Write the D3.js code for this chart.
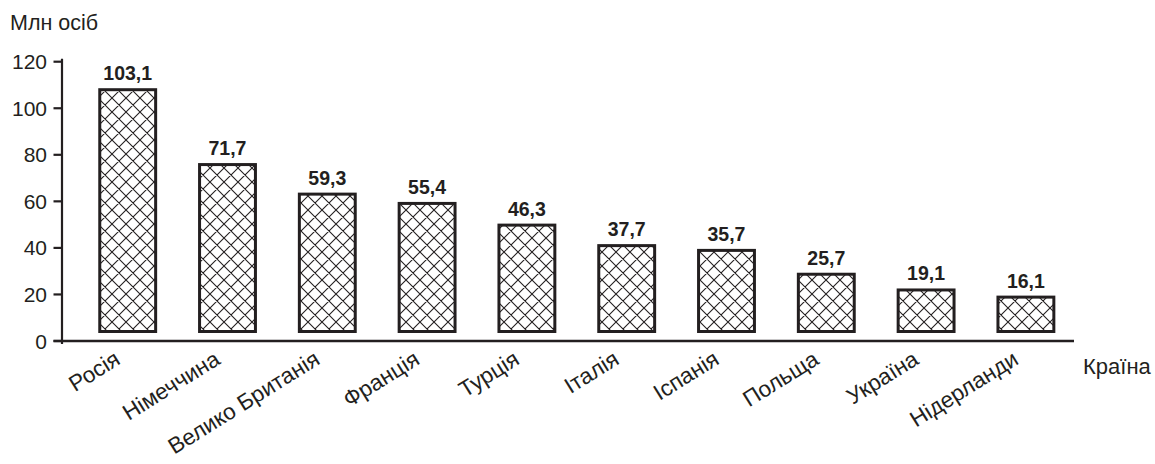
<!DOCTYPE html>
<html>
<head>
<meta charset="utf-8">
<script src="https://cdn.jsdelivr.net/npm/d3@7"></script>
<style>
  html, body { margin: 0; padding: 0; background: #fff; }
  svg { display: block; font-family: "Liberation Sans", Arial, sans-serif; }
</style>
</head>
<body>
<svg id="chart" width="1155" height="464"></svg>
<script>
const countries = ["Росія", "Німеччина", "Велико Британія", "Франція", "Турція", "Італія", "Іспанія", "Польща", "Україна", "Нідерланди"];
const population = [103.1, 71.7, 59.3, 55.4, 46.3, 37.7, 35.7, 25.7, 19.1, 16.1];
const valueLabels = ["103,1", "71,7", "59,3", "55,4", "46,3", "37,7", "35,7", "25,7", "19,1", "16,1"];
const yTicks = [0, 20, 40, 60, 80, 100, 120];
const yTitle = "Млн осіб";
const xTitle = "Країна";

const ink = "#231f20";
const svg = d3.select("#chart");

const y = d3.scaleLinear().domain([0, 120]).range([341, 61.7]);
const yBar = d3.scaleLinear().domain([0, 120]).range([334, 334 - 120 * 2.384]);
const x = d3.scaleBand().domain(countries).range([78.3, 1075.3]).paddingInner(0.41).paddingOuter(0.2);

// cross-hatch pattern
const defs = svg.append("defs");
const pat = defs.append("pattern")
  .attr("id", "hatch").attr("patternUnits", "userSpaceOnUse")
  .attr("width", 14).attr("height", 14);
pat.append("rect").attr("width", 14).attr("height", 14).attr("fill", "#fff");
pat.append("path").attr("d", "M0,0L14,14M0,14L14,0M-1,1L1,-1M13,15L15,13M-1,13L1,15M13,-1L15,1")
  .attr("stroke", ink).attr("stroke-width", 1.1).attr("fill", "none");

const data = countries.map((c, i) => ({ c, v: population[i], label: valueLabels[i] }));

// bars
svg.append("g").selectAll("rect").data(data).join("rect")
  .attr("x", d => x(d.c) + 1.5)
  .attr("width", x.bandwidth() - 3)
  .attr("y", d => yBar(d.v) + 1.5)
  .attr("height", d => (yBar(0) - 2.5) - (yBar(d.v) + 1.5))
  .attr("fill", "url(#hatch)")
  .attr("stroke", ink).attr("stroke-width", 3);

// value labels
svg.append("g").selectAll("text").data(data).join("text")
  .attr("x", d => x(d.c) + x.bandwidth() / 2)
  .attr("y", d => yBar(d.v) - 8)
  .attr("text-anchor", "middle")
  .attr("font-size", 19.5).attr("font-weight", "bold").attr("fill", ink)
  .text(d => d.label);

// y axis
const yAxis = svg.append("g");
yAxis.append("line").attr("x1", 62).attr("x2", 62).attr("y1", y(120) - 3).attr("y2", y(0) + 3)
  .attr("stroke", ink).attr("stroke-width", 2.2);
yAxis.selectAll("line.tick").data(yTicks).join("line").attr("class", "tick")
  .attr("x1", 53.5).attr("x2", 62).attr("y1", d => y(d)).attr("y2", d => y(d))
  .attr("stroke", ink).attr("stroke-width", 2.2);
yAxis.selectAll("text").data(yTicks).join("text")
  .attr("x", 47).attr("y", d => y(d)).attr("dy", "0.36em")
  .attr("text-anchor", "end").attr("font-size", 21).attr("fill", ink)
  .text(d => d);

// x axis
svg.append("line").attr("x1", 53.5).attr("x2", 1074).attr("y1", y(0)).attr("y2", y(0))
  .attr("stroke", ink).attr("stroke-width", 2.6);

// x labels
svg.append("g").selectAll("text").data(countries).join("text")
  .attr("transform", d => `translate(${x(d) + x.bandwidth() / 2 - 6},363) rotate(-32)`)
  .attr("text-anchor", "end").attr("font-size", 22.5).attr("fill", ink)
  .text(d => d);

// titles
svg.append("text").attr("x", 10).attr("y", 29.5).attr("font-size", 21.5).attr("fill", ink).text(yTitle);
svg.append("text").attr("x", 1083).attr("y", 374).attr("font-size", 22).attr("fill", ink).text(xTitle);
</script>
</body>
</html>
